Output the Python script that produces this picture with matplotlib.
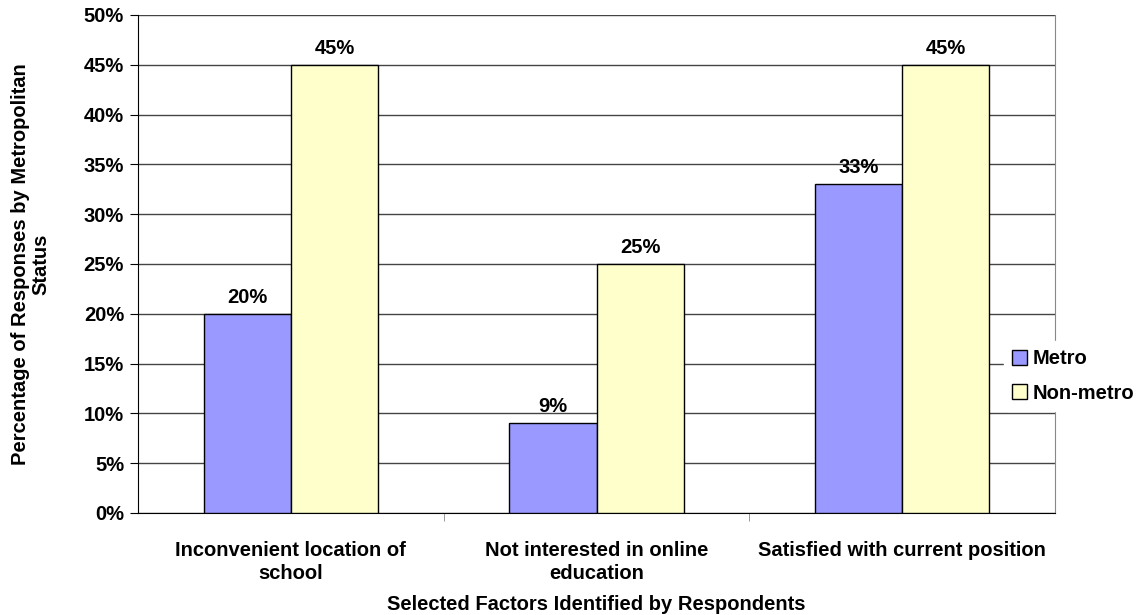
import numpy as np
import matplotlib.pyplot as plt
from matplotlib.ticker import FuncFormatter

categories = ["Inconvenient location of\nschool", "Not interested in online\neducation", "Satisfied with current position"]
metro = [20, 9, 33]
non_metro = [45, 25, 45]
series_names = ["Metro", "Non-metro"]

plt.rcParams['font.family'] = ['Liberation Sans', 'DejaVu Sans']
plt.rcParams['font.weight'] = 'bold'
fs = 14.5

fig = plt.figure(figsize=(11.38, 6.15), dpi=100)
ax = fig.add_axes([138/1138, 1-513/615, (1055-138)/1138, (513-15)/615])

x = np.arange(len(categories))
w = 0.285
b1 = ax.bar(x - w/2, metro, w, color='#9999FF', edgecolor='black', linewidth=1, label=series_names[0], zorder=3)
b2 = ax.bar(x + w/2, non_metro, w, color='#FFFFCC', edgecolor='black', linewidth=1, label=series_names[1], zorder=3)

for bars in (b1, b2):
    ax.bar_label(bars, labels=[f"{v:.0f}%" for v in bars.datavalues], padding=5, fontsize=fs, fontweight='bold')

ax.set_xlim(-0.5, 2.5)
ax.set_ylim(0, 50)
ax.set_yticks(np.arange(0, 51, 5))
ax.yaxis.set_major_formatter(FuncFormatter(lambda v, p: f"{v:.0f}%"))
ax.grid(axis='y', color='#444444', linewidth=1, zorder=0)

ax.set_xticks(x)
ax.set_xticklabels(categories, fontsize=fs, fontweight='bold', linespacing=1.25)
ax.set_xticks([0.5, 1.5], minor=True)
ax.tick_params(axis='x', which='major', length=0, pad=20)
ax.tick_params(axis='x', which='minor', length=6, direction='out', color='#888888')
ax.tick_params(axis='y', length=6, direction='out', labelsize=fs, pad=4)

ax.spines['top'].set_visible(False)
ax.spines['right'].set_color('#888888')
ax.spines['left'].set_color('black')
ax.spines['bottom'].set_color('black')

ax.set_xlabel("Selected Factors Identified by Respondents", fontsize=fs, fontweight='bold', labelpad=9)
ax.set_ylabel("Percentage of Responses by Metropolitan\nStatus", fontsize=fs, fontweight='bold',
              labelpad=24, linespacing=1.1)

leg = fig.legend(loc='center left', bbox_to_anchor=(994/1138, 1-376/615), frameon=True,
                 fontsize=fs, handlelength=0.75, handleheight=0.75, handletextpad=0.25,
                 labelspacing=0.75, borderpad=0.4)
leg.get_frame().set_edgecolor('white')
leg.get_frame().set_facecolor('white')
leg.get_frame().set_alpha(1)

fig.savefig("out.png", dpi=100)
